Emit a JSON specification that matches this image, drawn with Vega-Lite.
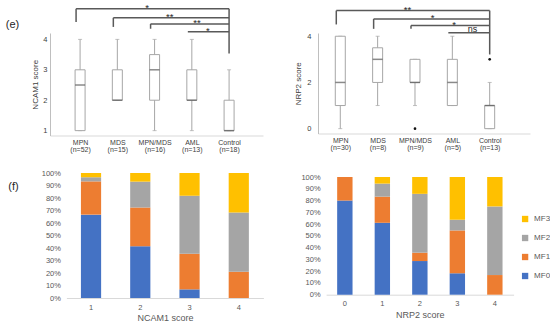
{
  "$schema": "https://vega.github.io/schema/vega-lite/v6.json",
  "padding": {"left": 5, "top": 3, "right": 0, "bottom": 0},
  "background": "white",
  "config": {
    "font": "Liberation Sans",
    "view": {"stroke": null},
    "axis": {"grid": false, "ticks": false, "labelFlush": false, "labelOverlap": false, "titleFontWeight": "normal", "labelColor": "#404040", "titleColor": "#404040"},
    "title": {"fontWeight": "normal"}
  },
  "datasets": {
    "boxA": [
      {"g": "MPN (n=52)", "lo": 1, "q1": 1, "med": 2.5, "q3": 3, "hi": 4},
      {"g": "MDS (n=15)", "lo": 2, "q1": 2, "med": 2, "q3": 3, "hi": 4},
      {"g": "MPN/MDS (n=16)", "lo": 1, "q1": 2, "med": 3, "q3": 3.5, "hi": 4},
      {"g": "AML (n=13)", "lo": 1, "q1": 2, "med": 2, "q3": 3, "hi": 4},
      {"g": "Control (n=18)", "lo": 1, "q1": 1, "med": 1, "q3": 2, "hi": 3}
    ],
    "brA": [
      {"g": "MPN (n=52)", "level": 5.01, "drop": 4.57, "label": "*", "pos": 1.8},
      {"g": "MDS (n=15)", "level": 4.71, "drop": 4.41, "label": "**", "pos": 2.41},
      {"g": "MPN/MDS (n=16)", "level": 4.51, "drop": 4.35, "label": "**", "pos": 3.14},
      {"g": "AML (n=13)", "level": 4.25, "drop": 4.25, "label": "*", "pos": 3.43}
    ],
    "ctlA": [{"g": "Control (n=18)", "top": 5.01, "bottom": 3.54}],
    "boxB": [
      {"g": "MPN (n=30)", "lo": 0, "q1": 1, "med": 2, "q3": 4, "hi": 4},
      {"g": "MDS (n=8)", "lo": 1, "q1": 2, "med": 3, "q3": 3.5, "hi": 4},
      {"g": "MPN/MDS (n=9)", "lo": 1, "q1": 2, "med": 2, "q3": 3, "hi": 3},
      {"g": "AML (n=5)", "lo": 1, "q1": 1, "med": 2, "q3": 3, "hi": 4},
      {"g": "Control (n=13)", "lo": 0, "q1": 0, "med": 1, "q3": 1, "hi": 2}
    ],
    "outB": [{"g": "MPN/MDS (n=9)", "v": 0}, {"g": "Control (n=13)", "v": 3}],
    "brB": [
      {"g": "MPN (n=30)", "level": 5.11, "drop": 4.51, "label": "**", "pos": 1.8},
      {"g": "MDS (n=8)", "level": 4.75, "drop": 4.32, "label": "*", "pos": 2.47},
      {"g": "MPN/MDS (n=9)", "level": 4.46, "drop": 4.32, "label": "*", "pos": 3.05},
      {"g": "AML (n=5)", "level": 4.15, "drop": 4.15, "label": "ns", "pos": 3.54}
    ],
    "ctlB": [{"g": "Control (n=13)", "top": 5.11, "bottom": 3.21}],
    "mfA": [
      {"score": 1, "mf": "MF0", "pct": 66.7}, {"score": 1, "mf": "MF1", "pct": 26.6}, {"score": 1, "mf": "MF2", "pct": 3.3}, {"score": 1, "mf": "MF3", "pct": 3.4},
      {"score": 2, "mf": "MF0", "pct": 41.4}, {"score": 2, "mf": "MF1", "pct": 31.0}, {"score": 2, "mf": "MF2", "pct": 20.7}, {"score": 2, "mf": "MF3", "pct": 6.9},
      {"score": 3, "mf": "MF0", "pct": 6.9}, {"score": 3, "mf": "MF1", "pct": 28.5}, {"score": 3, "mf": "MF2", "pct": 46.4}, {"score": 3, "mf": "MF3", "pct": 18.2},
      {"score": 4, "mf": "MF0", "pct": 0}, {"score": 4, "mf": "MF1", "pct": 21.0}, {"score": 4, "mf": "MF2", "pct": 47.4}, {"score": 4, "mf": "MF3", "pct": 31.6}
    ],
    "mfB": [
      {"score": 0, "mf": "MF0", "pct": 80}, {"score": 0, "mf": "MF1", "pct": 20}, {"score": 0, "mf": "MF2", "pct": 0}, {"score": 0, "mf": "MF3", "pct": 0},
      {"score": 1, "mf": "MF0", "pct": 61.1}, {"score": 1, "mf": "MF1", "pct": 22.2}, {"score": 1, "mf": "MF2", "pct": 11.1}, {"score": 1, "mf": "MF3", "pct": 5.6},
      {"score": 2, "mf": "MF0", "pct": 28.6}, {"score": 2, "mf": "MF1", "pct": 7.1}, {"score": 2, "mf": "MF2", "pct": 50.0}, {"score": 2, "mf": "MF3", "pct": 14.3},
      {"score": 3, "mf": "MF0", "pct": 18.2}, {"score": 3, "mf": "MF1", "pct": 36.4}, {"score": 3, "mf": "MF2", "pct": 9.1}, {"score": 3, "mf": "MF3", "pct": 36.3},
      {"score": 4, "mf": "MF0", "pct": 0}, {"score": 4, "mf": "MF1", "pct": 16.7}, {"score": 4, "mf": "MF2", "pct": 58.3}, {"score": 4, "mf": "MF3", "pct": 25.0}
    ]
  },
  "spacing": 16,
  "resolve": {"scale": {"color": "independent"}},
  "vconcat": [
    {
      "title": {"text": "(e)", "orient": "top", "anchor": "start", "frame": "bounds", "fontSize": 11, "color": "#262626", "dx": -26, "dy": 27, "offset": 0},
      "hconcat": [
        {
          "width": 213, "height": 102.5,
          "resolve": {"scale": {"x": "independent"}},
          "layer": [
            {
              "encoding": {"x": {"field": "g", "type": "nominal", "scale": {"type": "point", "domain": ["MPN (n=52)", "MDS (n=15)", "MPN/MDS (n=16)", "AML (n=13)", "Control (n=18)"], "padding": 0.859, "align": 0.47}, "axis": {"title": null, "labelExpr": "split(datum.value, ' ')", "labelAngle": 0, "labelFontSize": 7, "labelLineHeight": 7, "labelPadding": 3, "domainColor": "#d9d9d9"}}},
              "layer": [
                {"data": {"name": "boxA"}, "mark": {"type": "rule", "color": "#a6a6a6"}, "encoding": {"y": {"field": "lo", "type": "quantitative", "scale": {"domain": [0.84, 4.21], "nice": false, "zero": false}, "axis": {"tickCount": 4, "format": "d", "labelOverlap": false, "labelBound": false, "title": "NCAM1 score", "titleFontSize": 8, "labelFontSize": 7.5, "labelPadding": 3, "titlePadding": 3, "domainColor": "#bfbfbf"}}, "y2": {"field": "hi"}}},
                {"data": {"name": "boxA"}, "mark": {"type": "tick", "orient": "horizontal", "color": "#a6a6a6", "size": 4, "thickness": 1}, "encoding": {"y": {"field": "hi", "type": "quantitative", "scale": {"domain": [0.84, 4.21], "nice": false, "zero": false}}}},
                {"data": {"name": "boxA"}, "mark": {"type": "tick", "orient": "horizontal", "color": "#a6a6a6", "size": 4, "thickness": 1}, "encoding": {"y": {"field": "lo", "type": "quantitative", "scale": {"domain": [0.84, 4.21], "nice": false, "zero": false}}}},
                {"data": {"name": "boxA"}, "mark": {"type": "bar", "fill": "white", "stroke": "#a6a6a6", "strokeWidth": 1, "size": 10}, "encoding": {"y": {"field": "q1", "type": "quantitative", "scale": {"domain": [0.84, 4.21], "nice": false, "zero": false}}, "y2": {"field": "q3"}}},
                {"data": {"name": "boxA"}, "mark": {"type": "tick", "orient": "horizontal", "color": "#595959", "size": 10, "thickness": 1.5}, "encoding": {"y": {"field": "med", "type": "quantitative", "scale": {"domain": [0.84, 4.21], "nice": false, "zero": false}}}},
                {"data": {"name": "brA"}, "mark": {"type": "rule", "color": "#595959", "strokeWidth": 1.5, "xOffset": -4}, "encoding": {"x2": {"datum": "Control (n=18)"}, "y": {"field": "level", "type": "quantitative", "scale": {"domain": [0.84, 4.21], "nice": false, "zero": false}}}},
                {"data": {"name": "brA"}, "mark": {"type": "rule", "color": "#595959", "strokeWidth": 1.5, "xOffset": -4}, "encoding": {"y": {"field": "level", "type": "quantitative", "scale": {"domain": [0.84, 4.21], "nice": false, "zero": false}}, "y2": {"field": "drop"}}},
                {"data": {"name": "ctlA"}, "mark": {"type": "rule", "color": "#595959", "strokeWidth": 1.5}, "encoding": {"y": {"field": "top", "type": "quantitative", "scale": {"domain": [0.84, 4.21], "nice": false, "zero": false}}, "y2": {"field": "bottom"}}}
              ]
            },
            {"data": {"name": "brA"}, "transform": [{"filter": "datum.label != 'ns'"}], "mark": {"type": "text", "fontSize": 9.5, "color": "#262626", "baseline": "alphabetic", "dy": 2.5}, "encoding": {"x": {"field": "pos", "type": "quantitative", "scale": {"domain": [-0.805, 4.913], "nice": false, "zero": false}, "axis": null}, "y": {"field": "level", "type": "quantitative", "scale": {"domain": [0.84, 4.21], "nice": false, "zero": false}}, "text": {"field": "label"}}}
          ]
        },
        {
          "width": 212, "height": 100.5,
          "resolve": {"scale": {"x": "independent"}},
          "layer": [
            {
              "encoding": {"x": {"field": "g", "type": "nominal", "scale": {"type": "point", "domain": ["MPN (n=30)", "MDS (n=8)", "MPN/MDS (n=9)", "AML (n=5)", "Control (n=13)"], "padding": 0.838, "align": 0.356}, "axis": {"title": null, "labelExpr": "split(datum.value, ' ')", "labelAngle": 0, "labelFontSize": 7, "labelLineHeight": 7, "labelPadding": 3, "domainColor": "#d9d9d9"}}},
              "layer": [
                {"data": {"name": "boxB"}, "mark": {"type": "rule", "color": "#a6a6a6"}, "encoding": {"y": {"field": "lo", "type": "quantitative", "scale": {"domain": [-0.21, 4.14], "nice": false, "zero": false}, "axis": {"values": [0, 1, 2, 3, 4], "labelOverlap": false, "title": "NRP2 score", "titleFontSize": 8, "labelFontSize": 7.5, "labelPadding": 7, "titlePadding": 4, "domainColor": "#bfbfbf"}}, "y2": {"field": "hi"}}},
                {"data": {"name": "boxB"}, "mark": {"type": "tick", "orient": "horizontal", "color": "#a6a6a6", "size": 4, "thickness": 1}, "encoding": {"y": {"field": "hi", "type": "quantitative", "scale": {"domain": [-0.21, 4.14], "nice": false, "zero": false}}}},
                {"data": {"name": "boxB"}, "mark": {"type": "tick", "orient": "horizontal", "color": "#a6a6a6", "size": 4, "thickness": 1}, "encoding": {"y": {"field": "lo", "type": "quantitative", "scale": {"domain": [-0.21, 4.14], "nice": false, "zero": false}}}},
                {"data": {"name": "boxB"}, "mark": {"type": "bar", "fill": "white", "stroke": "#a6a6a6", "strokeWidth": 1, "size": 10}, "encoding": {"y": {"field": "q1", "type": "quantitative", "scale": {"domain": [-0.21, 4.14], "nice": false, "zero": false}}, "y2": {"field": "q3"}}},
                {"data": {"name": "boxB"}, "mark": {"type": "tick", "orient": "horizontal", "color": "#595959", "size": 10, "thickness": 1.5}, "encoding": {"y": {"field": "med", "type": "quantitative", "scale": {"domain": [-0.21, 4.14], "nice": false, "zero": false}}}},
                {"data": {"name": "outB"}, "mark": {"type": "circle", "color": "#111111", "size": 7, "opacity": 1}, "encoding": {"y": {"field": "v", "type": "quantitative", "scale": {"domain": [-0.21, 4.14], "nice": false, "zero": false}}}},
                {"data": {"name": "brB"}, "mark": {"type": "rule", "color": "#595959", "strokeWidth": 1.5, "xOffset": -4}, "encoding": {"x2": {"datum": "Control (n=13)"}, "y": {"field": "level", "type": "quantitative", "scale": {"domain": [-0.21, 4.14], "nice": false, "zero": false}}}},
                {"data": {"name": "brB"}, "mark": {"type": "rule", "color": "#595959", "strokeWidth": 1.5, "xOffset": -4}, "encoding": {"y": {"field": "level", "type": "quantitative", "scale": {"domain": [-0.21, 4.14], "nice": false, "zero": false}}, "y2": {"field": "drop"}}},
                {"data": {"name": "ctlB"}, "mark": {"type": "rule", "color": "#595959", "strokeWidth": 1.5}, "encoding": {"y": {"field": "top", "type": "quantitative", "scale": {"domain": [-0.21, 4.14], "nice": false, "zero": false}}, "y2": {"field": "bottom"}}}
              ]
            },
            {"data": {"name": "brB"}, "transform": [{"filter": "datum.label != 'ns'"}], "mark": {"type": "text", "fontSize": 9.5, "color": "#262626", "baseline": "alphabetic", "dy": 2.5}, "encoding": {"x": {"field": "pos", "type": "quantitative", "scale": {"domain": [-0.597, 5.079], "nice": false, "zero": false}, "axis": null}, "y": {"field": "level", "type": "quantitative", "scale": {"domain": [-0.21, 4.14], "nice": false, "zero": false}}, "text": {"field": "label"}}},
            {"data": {"name": "brB"}, "transform": [{"filter": "datum.label == 'ns'"}], "mark": {"type": "text", "fontSize": 9, "color": "#262626", "baseline": "alphabetic", "dy": -1}, "encoding": {"x": {"field": "pos", "type": "quantitative", "scale": {"domain": [-0.597, 5.079], "nice": false, "zero": false}, "axis": null}, "y": {"field": "level", "type": "quantitative", "scale": {"domain": [-0.21, 4.14], "nice": false, "zero": false}}, "text": {"field": "label"}}}
          ]
        }
      ],
      "spacing": 55,
      "bounds": "flush"
    },
    {
      "title": {"text": "(f)", "orient": "top", "anchor": "start", "frame": "bounds", "fontSize": 11, "color": "#262626", "dx": -33, "dy": 23, "offset": 0},
      "hconcat": [
        {
          "width": 213.4, "height": 125,
          "data": {"name": "mfA"},
          "mark": {"type": "bar"},
          "encoding": {
            "x": {"field": "score", "type": "ordinal", "scale": {"range": [16.4, 213.4], "paddingInner": 0.59, "paddingOuter": 0.295}, "axis": {"title": "NCAM1 score", "labelAngle": 0, "domainColor": "#d9d9d9", "labelFontSize": 7.5, "titleFontSize": 9, "labelColor": "#595959", "titleColor": "#595959", "labelPadding": 5, "titlePadding": 3}},
            "y": {"field": "pct", "type": "quantitative", "stack": "zero", "scale": {"domain": [0, 100], "nice": false}, "axis": {"values": [0, 10, 20, 30, 40, 50, 60, 70, 80, 90, 100], "labelExpr": "datum.value + '%'", "title": null, "domain": false, "offset": -16.4, "labelFontSize": 7.5, "labelColor": "#595959", "labelPadding": 6}},
            "color": {"field": "mf", "type": "nominal", "scale": {"domain": ["MF3", "MF2", "MF1", "MF0"], "range": ["#FFC000", "#A5A5A5", "#ED7D31", "#4472C4"]}, "legend": null},
            "order": {"field": "mf", "type": "ordinal", "sort": "ascending"}
          }
        },
        {
          "width": 187.5, "height": 121.7,
          "data": {"name": "mfB"},
          "mark": {"type": "bar"},
          "encoding": {
            "x": {"field": "score", "type": "ordinal", "scale": {"paddingInner": 0.59, "paddingOuter": 0.295}, "axis": {"title": "NRP2 score", "labelAngle": 0, "domainColor": "#d9d9d9", "labelFontSize": 7.5, "titleFontSize": 9, "labelColor": "#595959", "titleColor": "#595959", "labelPadding": 5, "titlePadding": 3}},
            "y": {"field": "pct", "type": "quantitative", "stack": "zero", "scale": {"domain": [0, 103.4], "nice": false}, "axis": {"values": [0, 10, 20, 30, 40, 50, 60, 70, 80, 90, 100], "labelExpr": "datum.value + '%'", "title": null, "domain": false, "labelFontSize": 7.5, "labelColor": "#595959", "labelPadding": 6}},
            "color": {"field": "mf", "type": "nominal", "scale": {"domain": ["MF3", "MF2", "MF1", "MF0"], "range": ["#FFC000", "#A5A5A5", "#ED7D31", "#4472C4"]}, "legend": {"title": null, "orient": "none", "legendX": 195, "legendY": 42, "symbolType": "square", "symbolSize": 40, "symbolStrokeWidth": 0, "labelFontSize": 8, "labelColor": "#595959", "rowPadding": 11, "padding": 0, "labelOffset": 5}},
            "order": {"field": "mf", "type": "ordinal", "sort": "ascending"}
          }
        }
      ],
      "spacing": 62.1,
      "bounds": "flush",
      "resolve": {"scale": {"color": "independent"}}
    }
  ]
}
